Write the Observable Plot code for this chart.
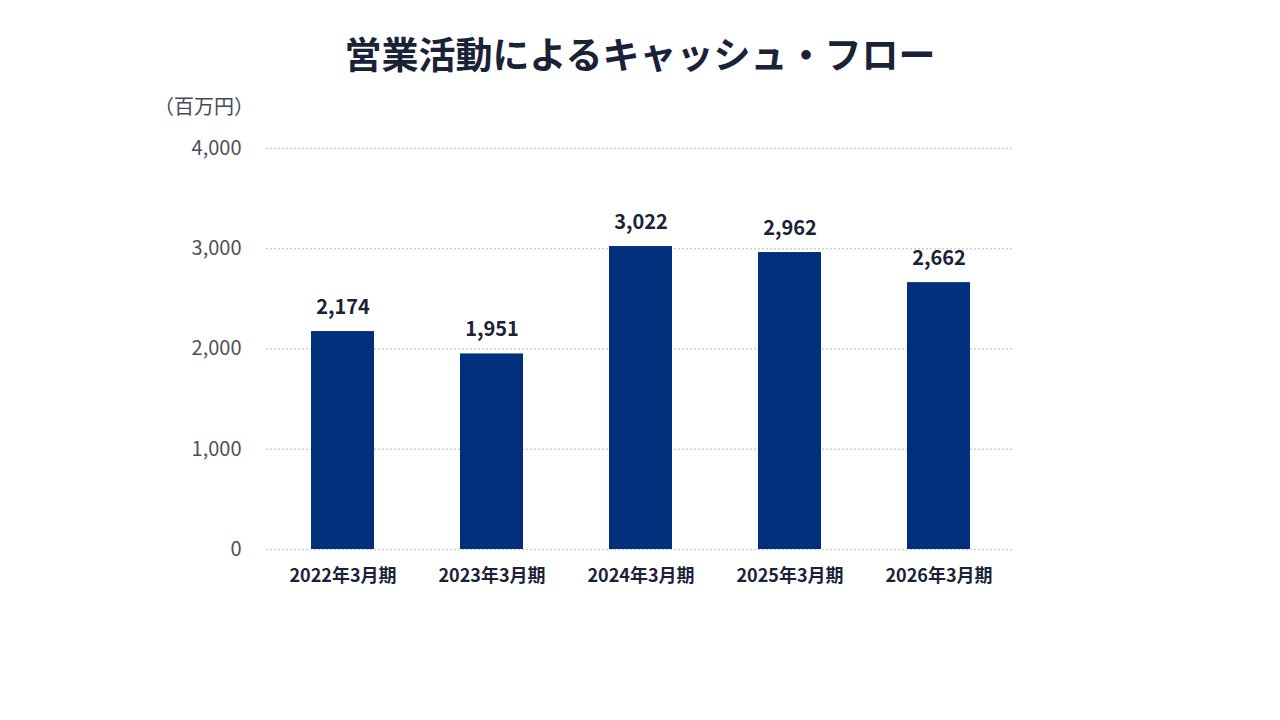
<!DOCTYPE html>
<html><head><meta charset="utf-8">
<script src="https://cdn.jsdelivr.net/npm/d3@7"></script>
<script src="https://cdn.jsdelivr.net/npm/@observablehq/plot@0.6"></script>
<style>
body{margin:0;background:#fff;font-family:"Noto Sans CJK JP","Noto Sans",sans-serif;}
#wrap{position:relative;width:1280px;height:720px;overflow:hidden;}
#title{position:absolute;left:0;width:1280px;top:28px;text-align:center;font-size:37px;font-weight:700;color:#1a2238;line-height:50px;}
#unit{position:absolute;left:154px;top:92px;font-size:20px;color:#444b57;line-height:28px;}
#chart{position:absolute;left:0;top:0;}
</style></head>
<body><div id="wrap"><div id="title">営業活動によるキャッシュ・フロー</div><div id="unit">（百万円）</div><div id="chart"></div></div>
<script>
const categories = ["2022年3月期","2023年3月期","2024年3月期","2025年3月期","2026年3月期"];
const values = [2174, 1951, 3022, 2962, 2662];
const yTicks = [0, 1000, 2000, 3000, 4000];
const data = categories.map((c,i)=>({c, v: values[i]}));
const fmt = d3.format(",");
const chart = Plot.plot({
  width: 1280, height: 720,
  marginLeft: 266, marginRight: 266, marginTop: 148, marginBottom: 171,
  style: {fontFamily: '"Noto Sans CJK JP","Noto Sans",sans-serif', background: "transparent"},
  x: {domain: categories, paddingInner: 0.58, paddingOuter: 0.29, label: null},
  y: {domain: [0, 4000], label: null},
  marks: [
    Plot.ruleY(yTicks, {stroke: "#cfcfcf", strokeWidth: 1.5, strokeDasharray: "2,2"}),
    Plot.barY(data, {x: "c", y: "v", fill: "#00307b"}),
    Plot.text(data, {x: "c", y: "v", text: d => fmt(d.v), dy: -24, fontSize: 20, fontWeight: 700, fill: "#1a2238"}),
    Plot.axisY(yTicks, {tickSize: 0, tickPadding: 25, tickFormat: fmt, fontSize: 20, fill: "#4a515c", label: null}),
    Plot.axisX({tickSize: 0, tickPadding: 20, fontSize: 18, fontWeight: 700, fill: "#1a2238", label: null})
  ]
});
document.getElementById("chart").appendChild(chart);
</script></body></html>
